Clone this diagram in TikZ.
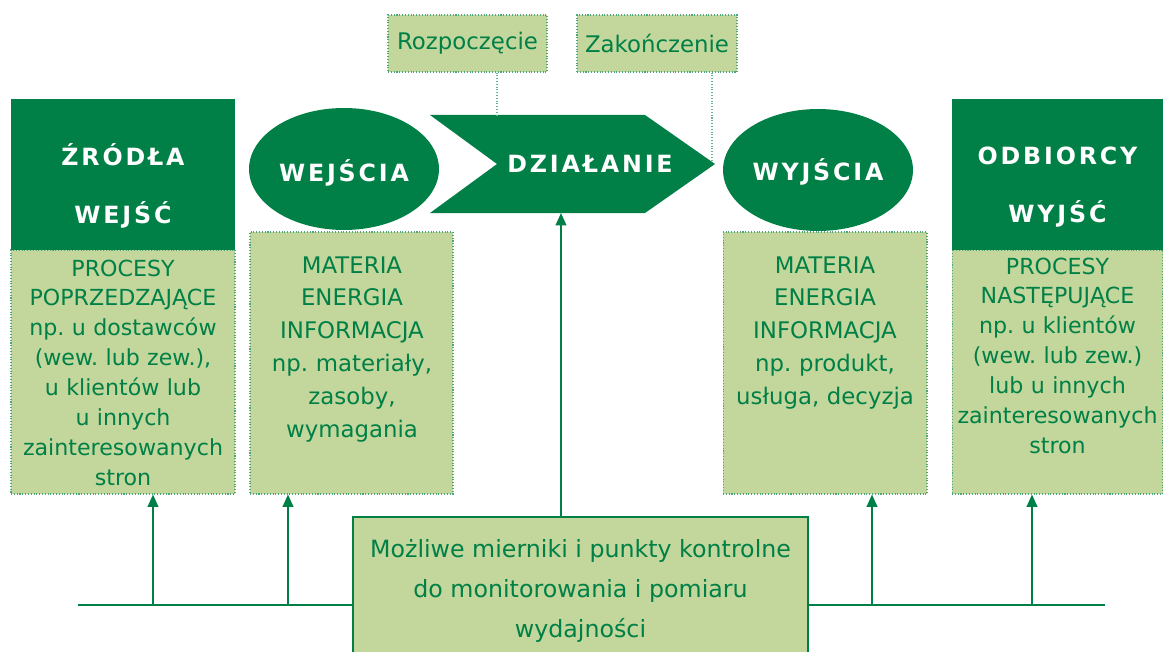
\documentclass[tikz,border=0pt]{standalone}
\usepackage{fontspec}
\setmainfont{DejaVu Sans}
\newfontfamily\headfont[LetterSpace=12]{DejaVu Sans}
\usetikzlibrary{shapes,arrows,arrows.meta,positioning}
\definecolor{dkgreen}{RGB}{0,128,70}
\definecolor{ltgreen}{RGB}{195,214,155}
\frenchspacing

\begin{document}
\begin{tikzpicture}[
    x=0.02cm, y=-0.02cm,
    head/.style={
        text=white,
        font=\headfont\bfseries\fontsize{13.5}{33.5}\selectfont,
        align=center, inner sep=0pt
    },
    body/.style={
        text=dkgreen, anchor=base,
        align=center, inner sep=0pt
    },
    darkbox/.style={fill=dkgreen, minimum width=#1, minimum height=3.02cm, inner sep=0pt},
    litebox/.style={
        fill=ltgreen, draw=dkgreen!70, densely dotted,
        line width=0.6pt, inner sep=0pt
    },
    ell/.style={ellipse, fill=dkgreen, minimum width=3.8cm, minimum height=2.44cm},
    tag/.style={
        litebox, minimum height=1.14cm, text=dkgreen,
        font=\fontsize{13}{15}\selectfont
    },
    link/.style={dkgreen!60, densely dotted, line width=0.6pt},
    wire/.style={dkgreen, line width=1.1pt},
    arr/.style={wire, -{Triangle[width=6pt,length=7pt]}},
    meas/.style={
        fill=ltgreen, draw=dkgreen, line width=1.2pt,
        minimum width=9.1cm, minimum height=2.96cm,
        text=dkgreen, align=center,
        font=\fontsize{13.5}{22.7}\selectfont
    }
]
\useasboundingbox (0,0) rectangle (1163,652);

% light boxes
\node[litebox, minimum width=4.48cm, minimum height=4.88cm] (srcP) at (123,372) {};
\node[litebox, minimum width=4.06cm, minimum height=5.24cm] (inM) at (351.5,363) {};
\node[litebox, minimum width=4.08cm, minimum height=5.24cm] (outM) at (825,363) {};
\node[litebox, minimum width=4.22cm, minimum height=4.88cm] (dstP) at (1057.5,372) {};

% dark boxes
\node[darkbox=4.48cm] (src) at (123,174.5) {};
\node[darkbox=4.22cm] (dst) at (1057.5,174.5) {};
\node[head, anchor=base, text width=4.2cm] at (123,165) {ŹRÓDŁA\\WEJŚĆ};
\node[head, anchor=base, text width=4.2cm] at (1057.5,164) {ODBIORCY\\WYJŚĆ};

% inputs, action, outputs
\node[ell] (in) at (344,169) {};
\node[head, anchor=base] at (in.center |- 0,181) {WEJŚCIA};
\node[ell] (out) at (818,170) {};
\node[head, anchor=base] at (out.center |- 0,180) {WYJŚCIA};
\fill[dkgreen] (430,115) -- (645,115) -- (715,164) -- (645,213)
    -- (430,213) -- (497,164) -- cycle;
\node[head, anchor=base] (act) at (590,173) {DZIAŁANIE};
\coordinate (actB) at (561,213);

% texts
\node[body, text width=4.4cm, font=\fontsize{12.6}{17}\selectfont] at (123,276)
    {PROCESY\\POPRZEDZAJĄCE\\np. u dostawców\\(wew. lub zew.),\\u klientów lub\\u innych\\zainteresowanych\\stron};
\node[body, text width=4cm, font=\fontsize{13}{18.7}\selectfont] at (352,273)
    {MATERIA\\ENERGIA\\INFORMACJA\\np. materiały,\\zasoby,\\wymagania};
\node[body, text width=4cm, font=\fontsize{13}{18.7}\selectfont] at (825,273)
    {MATERIA\\ENERGIA\\INFORMACJA\\np. produkt,\\usługa, decyzja};
\node[body, text width=4.15cm, font=\fontsize{12.6}{17}\selectfont] at (1057.5,274)
    {PROCESY\\NASTĘPUJĄCE\\np. u klientów\\(wew. lub zew.)\\lub u innych\\zainteresowanych\\stron};

% start / end
\node[tag, minimum width=3.18cm] (start) at (467.5,43.5) {Rozpoczęcie};
\node[tag, minimum width=3.2cm] (stop) at (657,43.5) {Zakończenie};
\coordinate (startE) at (497,115);
\coordinate (stopE) at (712,160);
\draw[link] (startE |- start.south) -- (startE);
\draw[link] (stopE |- stop.south) -- (stopE);

% measurement
\draw[wire] (78,605) -- (1105,605);
\foreach \x/\b in {153/srcP, 288/inM, 872/outM, 1032/dstP}
    \draw[arr] (\x,605) -- (\x,605 |- \b.south);
\node[meas] (meas) at (580.5,591)
    {Możliwe mierniki i punkty kontrolne\\do monitorowania i pomiaru\\wydajności};
\draw[arr] (meas.north -| actB) -- (actB);
\end{tikzpicture}
\end{document}
